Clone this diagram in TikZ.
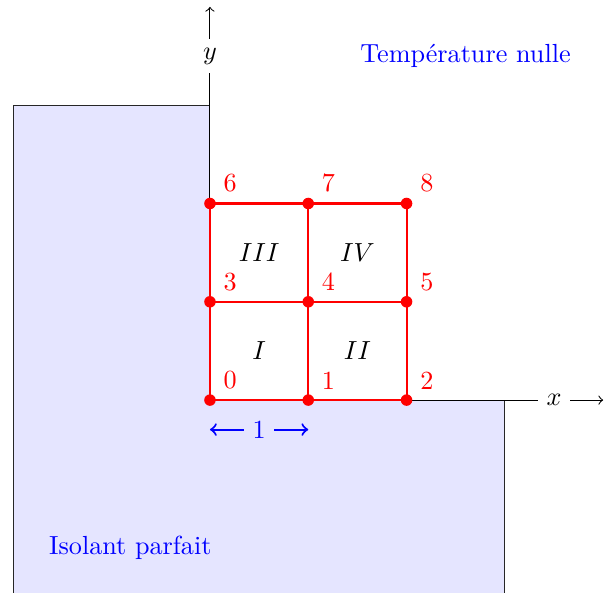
\documentclass[tikz,border=0pt]{standalone}
\usepackage{tikz}

\begin{document}
\begin{tikzpicture}[x=1.32cm,y=1.32cm,
 noeud/.style={circle,fill=red,inner sep=0pt,minimum size=4.4pt},
 numero/.style={red,anchor=south west},
 maille/.style={red,thick},
 zone/.style={draw=black!85,fill=blue!10}]
 \clip (-2.136,-1.953) rectangle (4.10,4.07);
 \draw[zone] (-2,3) -- (0,3) -- (0,0) -- (3,0) -- (3,-2.5) -- (-2,-2.5) -- cycle;
 \coordinate (O) at (0,0);
 \coordinate (xmax) at (4,0);
 \coordinate (ymax) at (0,4);
 \draw[->] (O) -- (xmax) node[pos=0.875,fill=white] (xlab) {$x$};
 \draw[->] (O) -- (ymax) node[pos=0.875,fill=white] (ylab) {$y$};
 \foreach \j in {0,1,2} {
  \foreach \i in {0,1,2} {
   \pgfmathtruncatemacro{\n}{3*\j+\i}
   \coordinate (c\n) at (\i,\j);
  }
 }
 \draw[maille] (c0) -- (c2) (c3) -- (c5) (c6) -- (c8);
 \draw[maille] (c0) -- (c6) (c1) -- (c7) (c2) -- (c8);
 \foreach \n in {0,...,8} {
  \node[noeud] (p\n) at (c\n) {};
  \node[numero] (n\n) at ([yshift=-1pt]p\n.north east) {\n};
 }
 \node (rI) at (0.5,0.5) {$I$};
 \node (rII) at (1.5,0.5) {$II$};
 \node (rIII) at (0.5,1.5) {$III$};
 \node (rIV) at (1.5,1.5) {$IV$};
 \coordinate (d0) at (0,-0.3);
 \coordinate (d1) at (1,-0.3);
 \draw[<->,blue,thick] (d0) -- (d1) node[midway,fill=blue!10] (pas) {1};
 \node[blue] (temp) at (2.60,3.50) {Température nulle};
 \node[blue] (isol) at (-0.81,-1.50) {Isolant parfait};
\end{tikzpicture}
\end{document}
